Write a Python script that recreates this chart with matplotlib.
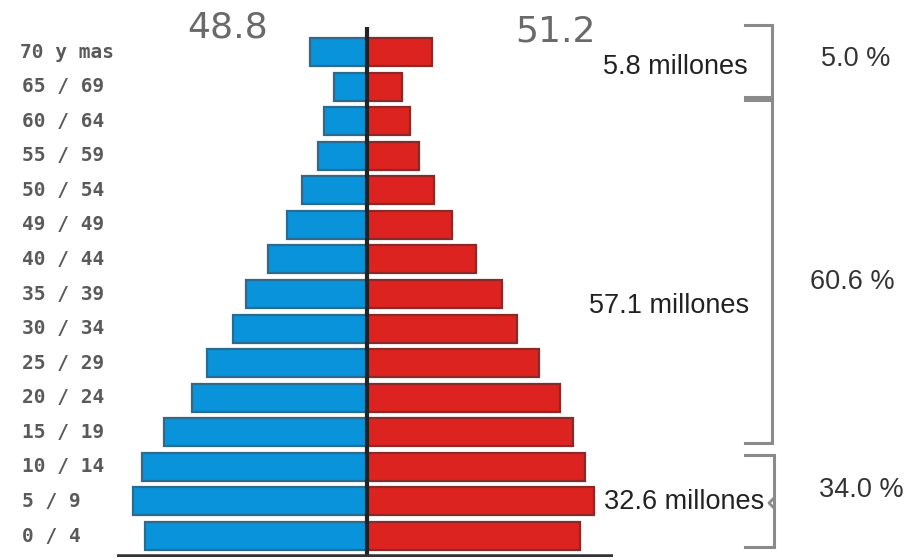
import matplotlib
matplotlib.use("Agg")
import matplotlib.pyplot as plt
import numpy as np

# ---- data (millions) ----
age_groups = ["0 / 4", "5 / 9", "10 / 14", "15 / 19", "20 / 24", "25 / 29",
              "30 / 34", "35 / 39", "40 / 44", "49 / 49", "50 / 54",
              "55 / 59", "60 / 64", "65 / 69", "70 y mas"]
men = [5.48, 5.78, 5.56, 5.01, 4.32, 3.95, 3.31, 2.99, 2.44, 1.98, 1.60,
       1.21, 1.06, 0.81, 1.41]
women = [5.26, 5.60, 5.38, 5.09, 4.77, 4.25, 3.70, 3.33, 2.69, 2.10, 1.65,
         1.28, 1.06, 0.86, 1.60]
men_pct = "48.8"
women_pct = "51.2"
group_labels = ["5.8 millones", "57.1 millones", "32.6 millones"]
group_pcts = ["5.0 %", "60.6 %", "34.0 %"]

W, H = 911, 560
fig = plt.figure(figsize=(W / 100, H / 100), dpi=100)
fig.patch.set_facecolor("white")

# overlay axes in pixel coordinates for annotations
ov = fig.add_axes([0, 0, 1, 1])
ov.set_xlim(0, W)
ov.set_ylim(H, 0)
ov.axis("off")

# main axes: x from 117px to 613px, y top 27px to bottom 557px
ax_left, ax_right = 117, 613
ax_top, ax_bot = 27, 557
ax = fig.add_axes([ax_left / W, 1 - ax_bot / H, (ax_right - ax_left) / W,
                   (ax_bot - ax_top) / H])
ppm = 40.5  # pixels per million
center = 367
ax.set_xlim(-(center - ax_left) / ppm, (ax_right - center) / ppm)
step = 34.57
y0px = 536
ax.set_ylim((y0px - ax_bot) / step, (y0px - ax_top) / step)
ax.axis("off")
ax.set_zorder(2)

y = np.arange(len(age_groups))
ax.barh(y, -np.array(men), height=0.81, color="#0893db", edgecolor="#2d6a8c",
        linewidth=1.6, zorder=2)
ax.barh(y, women, height=0.81, color="#dc2320", edgecolor="#8a2a28",
        linewidth=1.6, zorder=2)
ax.axvline(0, color="#222222", linewidth=3, zorder=3)
ax.axhline(ax.get_ylim()[0], color="#333333", linewidth=4, zorder=3)

# age labels
for i, lab in enumerate(age_groups):
    ypx = y0px - step * i
    ov.text(22 if i < 14 else 20, ypx, lab, ha="left", va="center",
            fontsize=14, color="#5a5a5a", family="DejaVu Sans Mono",
            fontweight="bold")

# top percentages
ov.text(228, 28, men_pct, ha="center", va="center", fontsize=26,
        color="#6a6a6a", family="DejaVu Sans")
ov.text(556, 31, women_pct, ha="center", va="center", fontsize=26,
        color="#6a6a6a", family="DejaVu Sans")

# brackets
bc = "#8a8a8a"
def bracket(top, bot, x=772, x0=745):
    ov.plot([x0, x, x, x0], [top, top, bot, bot], color=bc, lw=2.2,
            solid_joinstyle="miter")

bracket(25, 97)
bracket(100, 443)
bracket(455, 547, x=774)
ov.plot([774, 769, 774], [498, 503, 508], color=bc, lw=2)

tf = dict(family="Liberation Sans", color="#222222", fontsize=19.5)
ov.text(675, 67, group_labels[0], ha="center", va="center", **tf)
ov.text(669, 306, group_labels[1], ha="center", va="center", **tf)
ov.text(684, 502, group_labels[2], ha="center", va="center", **tf)

pf = dict(family="Liberation Sans", color="#333333", fontsize=19.5)
ov.text(856, 59, group_pcts[0], ha="center", va="center", **pf)
ov.text(852, 282, group_pcts[1], ha="center", va="center", **pf)
ov.text(861, 490, group_pcts[2], ha="center", va="center", **pf)

fig.savefig("out.png", dpi=100, facecolor="white")
